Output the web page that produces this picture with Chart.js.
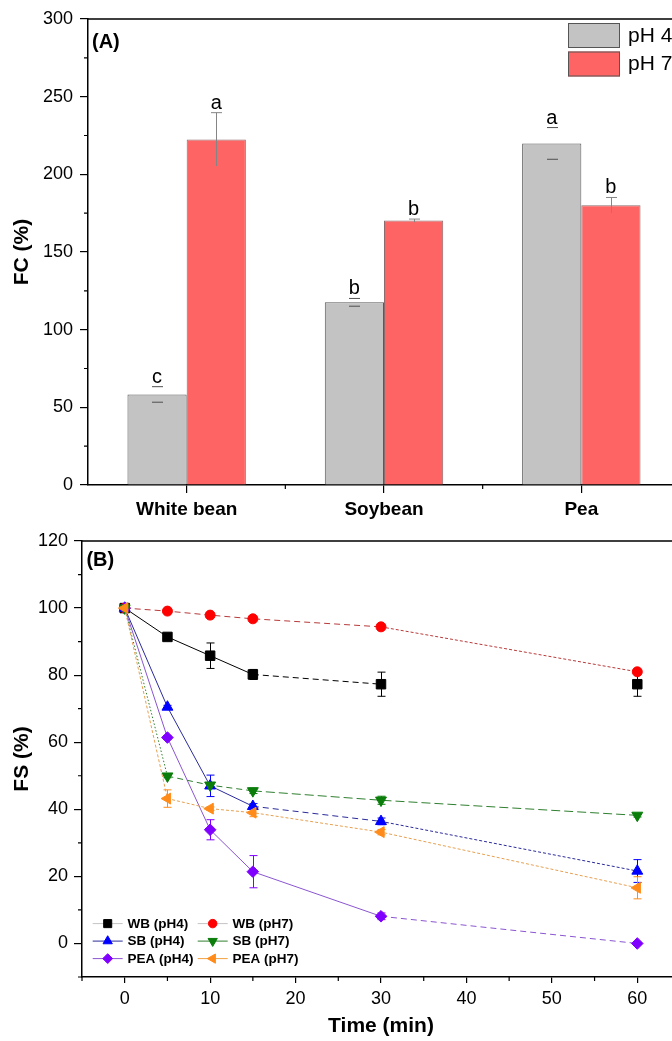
<!DOCTYPE html>
<html>
<head>
<meta charset="utf-8">
<script src="https://cdn.jsdelivr.net/npm/chart.js@4.4.1/dist/chart.umd.min.js"></script>
<style>
  html, body { margin: 0; padding: 0; background: #fff; overflow: hidden; width: 672px; height: 1041px; }
  canvas { position: absolute; left: 0; }
  #fc { top: 0; }
  #fs { top: 520px; }
</style>
</head>
<body>
<canvas id="fc" width="680" height="520"></canvas>
<canvas id="fs" width="680" height="521"></canvas>
<script>
// ---- (A) foaming capacity ----
const proteins = ['White bean', 'Soybean', 'Pea'];
const fcPH4 = [58.3, 117.6, 219.9];
const fcPH4Err = [5.0, 2.5, 10.2];
const fcPH4Letters = ['c', 'b', 'a'];
const fcPH7 = [222.5, 170.2, 180.1];
const fcPH7Err = [17.2, 1.0, 5.0];
const fcPH7Letters = ['a', 'b', 'b'];
const fcTicks = [0, 50, 100, 150, 200, 250, 300];
const fcMinorTicks = [25, 75, 125, 175, 225, 275];

// ---- (B) foam stability over time ----
const timeMin = [0, 5, 10, 15, 30, 60];
const wbPH4 = [100, 91.4, 85.8, 80.2, 77.3, 77.3];
const wbPH4Err = [0, 1.0, 3.8, 1.5, 3.6, 3.6];
const wbPH7 = [100, 99.1, 97.9, 96.8, 94.4, 81.0];
const wbPH7Err = [0, 0, 0, 0, 0, 0];
const sbPH4 = [100, 70.5, 47.0, 40.9, 36.4, 21.6];
const sbPH4Err = [0, 0.5, 3.2, 0.8, 1.0, 3.4];
const sbPH7 = [100, 49.9, 47.2, 45.5, 42.7, 38.2];
const sbPH7Err = [0, 0.5, 0.5, 0.8, 1.2, 0.5];
const peaPH4 = [100, 61.4, 33.9, 21.4, 8.1, 0];
const peaPH4Err = [0, 0.5, 3.0, 4.8, 1.0, 0.3];
const peaPH7 = [100, 43.2, 40.2, 39.0, 33.2, 16.6];
const peaPH7Err = [0, 2.6, 0.5, 1.2, 0.8, 3.3];
const fsTicksX = [0, 10, 20, 30, 40, 50, 60];
const fsMinorX = [-5, 5, 15, 25, 35, 45, 55, 65];
const fsTicksY = [0, 20, 40, 60, 80, 100, 120];
const fsMinorY = [-10, 10, 30, 50, 70, 90, 110];

const FONT = "'Liberation Sans', Arial, Helvetica, sans-serif";
const DASH = { solid: [], dash: [6, 4], short: [3, 2], dot: [1.5, 2], long: [9, 4] };

// short ticks between the labelled ones, and the closed top/right frame
function frameAndMinorTicks(minorX, minorY, lenX, lenY) {
  return {
    id: 'frameAndMinorTicks',
    afterDraw(chart) {
      const { ctx, chartArea: a, scales: { x, y } } = chart;
      ctx.save();
      ctx.strokeStyle = '#000';
      ctx.lineWidth = 1.5;
      ctx.beginPath();
      ctx.moveTo(a.left, a.top); ctx.lineTo(a.right, a.top); ctx.lineTo(a.right, a.bottom);
      ctx.stroke();
      ctx.lineWidth = 1.2;
      ctx.beginPath();
      minorX(x).forEach(px => { ctx.moveTo(px, a.bottom); ctx.lineTo(px, a.bottom + lenX); });
      minorY.forEach(v => { const py = y.getPixelForValue(v); ctx.moveTo(a.left, py); ctx.lineTo(a.left - lenY, py); });
      ctx.stroke();
      ctx.restore();
    }
  };
}

// keep the plot area edges where the axis sizes put them
function fixedSize(prop, size) {
  return s => {
    s[prop] = size;
    s.paddingLeft = 0; s.paddingRight = 0; s.paddingTop = 0; s.paddingBottom = 0;
  };
}

// error bars and significance letters over the bars
const barAnnotations = {
  id: 'barAnnotations',
  afterDatasetsDraw(chart) {
    const { ctx, scales: { y } } = chart;
    chart.data.datasets.forEach((ds, di) => {
      const meta = chart.getDatasetMeta(di);
      meta.data.forEach((bar, i) => {
        const v = ds.data[i], e = ds.errors[i];
        const yTop = y.getPixelForValue(v + e);
        const yBot = y.getPixelForValue(v - e);
        const cx = Math.round(bar.x) + 0.5;
        ctx.save();
        ctx.strokeStyle = ds.errColor;
        ctx.lineWidth = 1;
        ctx.beginPath();
        if (ds.errLine) { ctx.moveTo(cx, yTop); ctx.lineTo(cx, yBot); }
        ctx.moveTo(cx - 5.5, yTop); ctx.lineTo(cx + 5.5, yTop);
        if (ds.errBottomCap) { ctx.moveTo(cx - 5.5, yBot); ctx.lineTo(cx + 5.5, yBot); }
        ctx.stroke();
        ctx.fillStyle = '#000';
        ctx.font = '20px ' + FONT;
        ctx.textAlign = 'center';
        ctx.textBaseline = 'alphabetic';
        ctx.fillText(ds.letters[i], bar.x, yTop - 4);
        ctx.restore();
      });
    });
  }
};

// panel tag and the two legend swatches
const fcDecor = {
  id: 'fcDecor',
  afterDraw(chart) {
    const { ctx, chartArea: a } = chart;
    ctx.save();
    ctx.fillStyle = '#000';
    ctx.font = 'bold 20px ' + FONT;
    ctx.textBaseline = 'alphabetic';
    ctx.fillText('(A)', a.left + 4, a.top + 28.5);
    chart.data.datasets.forEach((ds, i) => {
      const bx = a.right - 112, by = a.top + 4 + i * 28.5;
      ctx.fillStyle = ds.backgroundColor;
      ctx.fillRect(bx, by, 52, 25);
      ctx.strokeStyle = '#555';
      ctx.lineWidth = 1;
      ctx.strokeRect(bx + 0.5, by + 0.5, 51, 24);
      ctx.fillStyle = '#000';
      ctx.font = '21px ' + FONT;
      ctx.textBaseline = 'middle';
      ctx.fillText(ds.label, a.right - 52, by + 13);
    });
    ctx.restore();
  }
};

new Chart(document.getElementById('fc'), {
  type: 'bar',
  data: {
    labels: proteins,
    datasets: [
      { label: 'pH 4', data: fcPH4, errors: fcPH4Err, letters: fcPH4Letters,
        backgroundColor: '#c3c3c3', borderColor: '#5a5a5a', borderWidth: 1,
        errColor: '#505050', errLine: false, errBottomCap: true },
      { label: 'pH 7', data: fcPH7, errors: fcPH7Err, letters: fcPH7Letters,
        backgroundColor: '#fe6464', borderColor: '#8c6c6c', borderWidth: 1,
        errColor: '#858585', errLine: true, errBottomCap: false }
    ]
  },
  options: {
    responsive: false,
    devicePixelRatio: 1,
    animation: false,
    categoryPercentage: 0.6,
    barPercentage: 1.0,
    layout: { autoPadding: false, padding: { top: 19, left: 0, right: 0, bottom: 0 } },
    plugins: { legend: { display: false }, tooltip: { enabled: false } },
    scales: {
      x: {
        grid: { drawOnChartArea: false, offset: false, tickLength: 8, color: '#000', lineWidth: 1.2 },
        border: { color: '#000', width: 1.5 },
        ticks: { color: '#000', padding: 5, font: { family: FONT, size: 19, weight: 'bold' } },
        afterFit: fixedSize('height', 35)
      },
      y: {
        min: 0, max: 300,
        afterBuildTicks(s) { s.ticks = fcTicks.map(v => ({ value: v })); },
        grid: { drawOnChartArea: false, tickLength: 8, color: '#000', lineWidth: 1.2 },
        border: { color: '#000', width: 1.5 },
        ticks: { color: '#000', padding: 7, font: { family: FONT, size: 18 } },
        title: { display: true, text: 'FC (%)', color: '#000', padding: { top: 10, bottom: 0 },
                 font: { family: FONT, size: 21, weight: 'bold' } },
        afterFit: fixedSize('width', 88)
      }
    }
  },
  plugins: [
    barAnnotations, fcDecor,
    frameAndMinorTicks(x => [0, 1].map(i => (x.getPixelForValue(i) + x.getPixelForValue(i + 1)) / 2), fcMinorTicks, 4, 4)
  ]
});

// ---- (B) ----
const series = [
  { label: 'WB (pH4)', values: wbPH4, errors: wbPH4Err, color: '#000000', line: '#000000', legendLine: '#c4c4c4',
    pointStyle: 'rect', radius: 6.7, rotation: 0, order: 5,
    segs: ['solid', 'solid', 'solid', 'dash', null] },
  { label: 'WB (pH7)', values: wbPH7, errors: wbPH7Err, color: '#ff0000', line: '#b83a3a', legendLine: '#c4c4c4',
    pointStyle: 'circle', radius: 5, rotation: 0, order: 4,
    segs: ['dash', 'dash', 'dash', 'dash', 'short'] },
  { label: 'SB (pH4)', values: sbPH4, errors: sbPH4Err, color: '#0000ff', line: '#2a2a9a', legendLine: '#2a2a9a',
    pointStyle: 'triangle', radius: 6.3, rotation: 0, order: 3,
    segs: ['solid', 'solid', 'solid', 'dash', 'short'] },
  { label: 'SB (pH7)', values: sbPH7, errors: sbPH7Err, color: '#0a7d0a', line: '#2f7f2f', legendLine: '#2f7f2f',
    pointStyle: 'triangle', radius: 6.3, rotation: 180, order: 1,
    segs: ['dot', 'dash', 'dash', 'long', 'long'] },
  { label: 'PEA (pH4)', values: peaPH4, errors: peaPH4Err, color: '#8000ff', line: '#8a55d0', legendLine: '#8a55d0',
    pointStyle: 'rectRot', radius: 5.8, rotation: 0, order: 2,
    segs: ['solid', 'solid', 'solid', 'solid', 'dash'] },
  { label: 'PEA (pH7)', values: peaPH7, errors: peaPH7Err, color: '#ff8c1a', line: '#e6a050', legendLine: '#f0a040',
    pointStyle: 'triangle', radius: 6.3, rotation: 270, order: 0,
    segs: ['short', 'short', 'short', 'short', 'short'] }
];

const fsErrorBars = {
  id: 'fsErrorBars',
  beforeDatasetsDraw(chart) {
    const { ctx, scales: { y } } = chart;
    chart.data.datasets.forEach((ds, di) => {
      const meta = chart.getDatasetMeta(di);
      meta.data.forEach((pt, i) => {
        const e = ds.errors[i];
        if (!e) return;
        const v = ds.data[i].y;
        const yTop = y.getPixelForValue(v + e), yBot = y.getPixelForValue(v - e);
        const cx = Math.round(pt.x) + 0.5;
        ctx.save();
        ctx.strokeStyle = ds.pointBackgroundColor;
        ctx.lineWidth = 1;
        ctx.beginPath();
        ctx.moveTo(cx, yTop); ctx.lineTo(cx, yBot);
        ctx.moveTo(cx - 4, yTop); ctx.lineTo(cx + 4, yTop);
        ctx.moveTo(cx - 4, yBot); ctx.lineTo(cx + 4, yBot);
        ctx.stroke();
        ctx.restore();
      });
    });
  }
};

const fsDecor = {
  id: 'fsDecor',
  afterDraw(chart) {
    const { ctx, chartArea: a } = chart;
    ctx.save();
    ctx.fillStyle = '#000';
    ctx.font = 'bold 20px ' + FONT;
    ctx.textBaseline = 'alphabetic';
    ctx.fillText('(B)', a.left + 4.4, a.top + 25.3);
    chart.data.datasets.forEach((ds, k) => {
      const row = Math.floor(k / 2), col = k % 2;
      const yy = a.bottom - 53.4 + row * 17.5;
      const x0 = a.left + (col ? 115.7 : 10.7);
      ctx.strokeStyle = ds.legendLine;
      ctx.lineWidth = 1;
      ctx.beginPath(); ctx.moveTo(x0, yy); ctx.lineTo(x0 + 30, yy); ctx.stroke();
      ctx.fillStyle = ds.pointBackgroundColor;
      ctx.strokeStyle = ds.pointBackgroundColor;
      Chart.helpers.drawPoint(ctx, { pointStyle: ds.pointStyle, radius: ds.pointRadius * 0.85,
                                     rotation: ds.pointRotation, borderWidth: 1 }, x0 + 15, yy);
      ctx.fillStyle = '#000';
      ctx.font = 'bold 13.5px ' + FONT;
      ctx.textBaseline = 'middle';
      ctx.fillText(ds.label, x0 + 34.7, yy + 0.5);
    });
    ctx.restore();
  }
};

new Chart(document.getElementById('fs'), {
  type: 'line',
  data: {
    datasets: series.map(s => ({
      label: s.label,
      data: timeMin.map((t, i) => ({ x: t, y: s.values[i] })),
      errors: s.errors,
      legendLine: s.legendLine,
      order: s.order,
      borderColor: s.line,
      borderWidth: 1,
      fill: false,
      tension: 0,
      pointStyle: s.pointStyle,
      pointRadius: s.radius,
      pointRotation: s.rotation,
      pointBackgroundColor: s.color,
      pointBorderColor: s.color,
      pointBorderWidth: 1,
      segment: {
        borderDash: ctx => DASH[s.segs[ctx.p0DataIndex]] || [],
        borderColor: ctx => (s.segs[ctx.p0DataIndex] ? s.line : 'rgba(0,0,0,0)')
      }
    }))
  },
  options: {
    responsive: false,
    devicePixelRatio: 1,
    animation: false,
    layout: { autoPadding: false, padding: { top: 21, left: 0, right: 0, bottom: 0 } },
    plugins: { legend: { display: false }, tooltip: { enabled: false } },
    scales: {
      x: {
        type: 'linear', min: -5, max: 65,
        afterBuildTicks(s) { s.ticks = fsTicksX.map(v => ({ value: v })); },
        grid: { drawOnChartArea: false, tickLength: 6, color: '#000', lineWidth: 1.2 },
        border: { color: '#000', width: 1.5 },
        ticks: { color: '#000', padding: 5.5, font: { family: FONT, size: 18 } },
        title: { display: true, text: 'Time (min)', color: '#000', padding: { top: 0, bottom: 2 },
                 font: { family: FONT, size: 21, weight: 'bold' } },
        afterFit: fixedSize('height', 64)
      },
      y: {
        min: -10, max: 120,
        afterBuildTicks(s) { s.ticks = fsTicksY.map(v => ({ value: v })); },
        grid: { drawOnChartArea: false, tickLength: 8, color: '#000', lineWidth: 1.2 },
        border: { color: '#000', width: 1.5 },
        ticks: { color: '#000', padding: 6, font: { family: FONT, size: 18 } },
        title: { display: true, text: 'FS (%)', color: '#000', padding: { top: 10, bottom: 0 },
                 font: { family: FONT, size: 21, weight: 'bold' } },
        afterFit: fixedSize('width', 82)
      }
    }
  },
  plugins: [
    fsErrorBars, fsDecor,
    frameAndMinorTicks(x => fsMinorX.map(v => x.getPixelForValue(v)), fsMinorY, 4, 4)
  ]
});
</script>
</body>
</html>
